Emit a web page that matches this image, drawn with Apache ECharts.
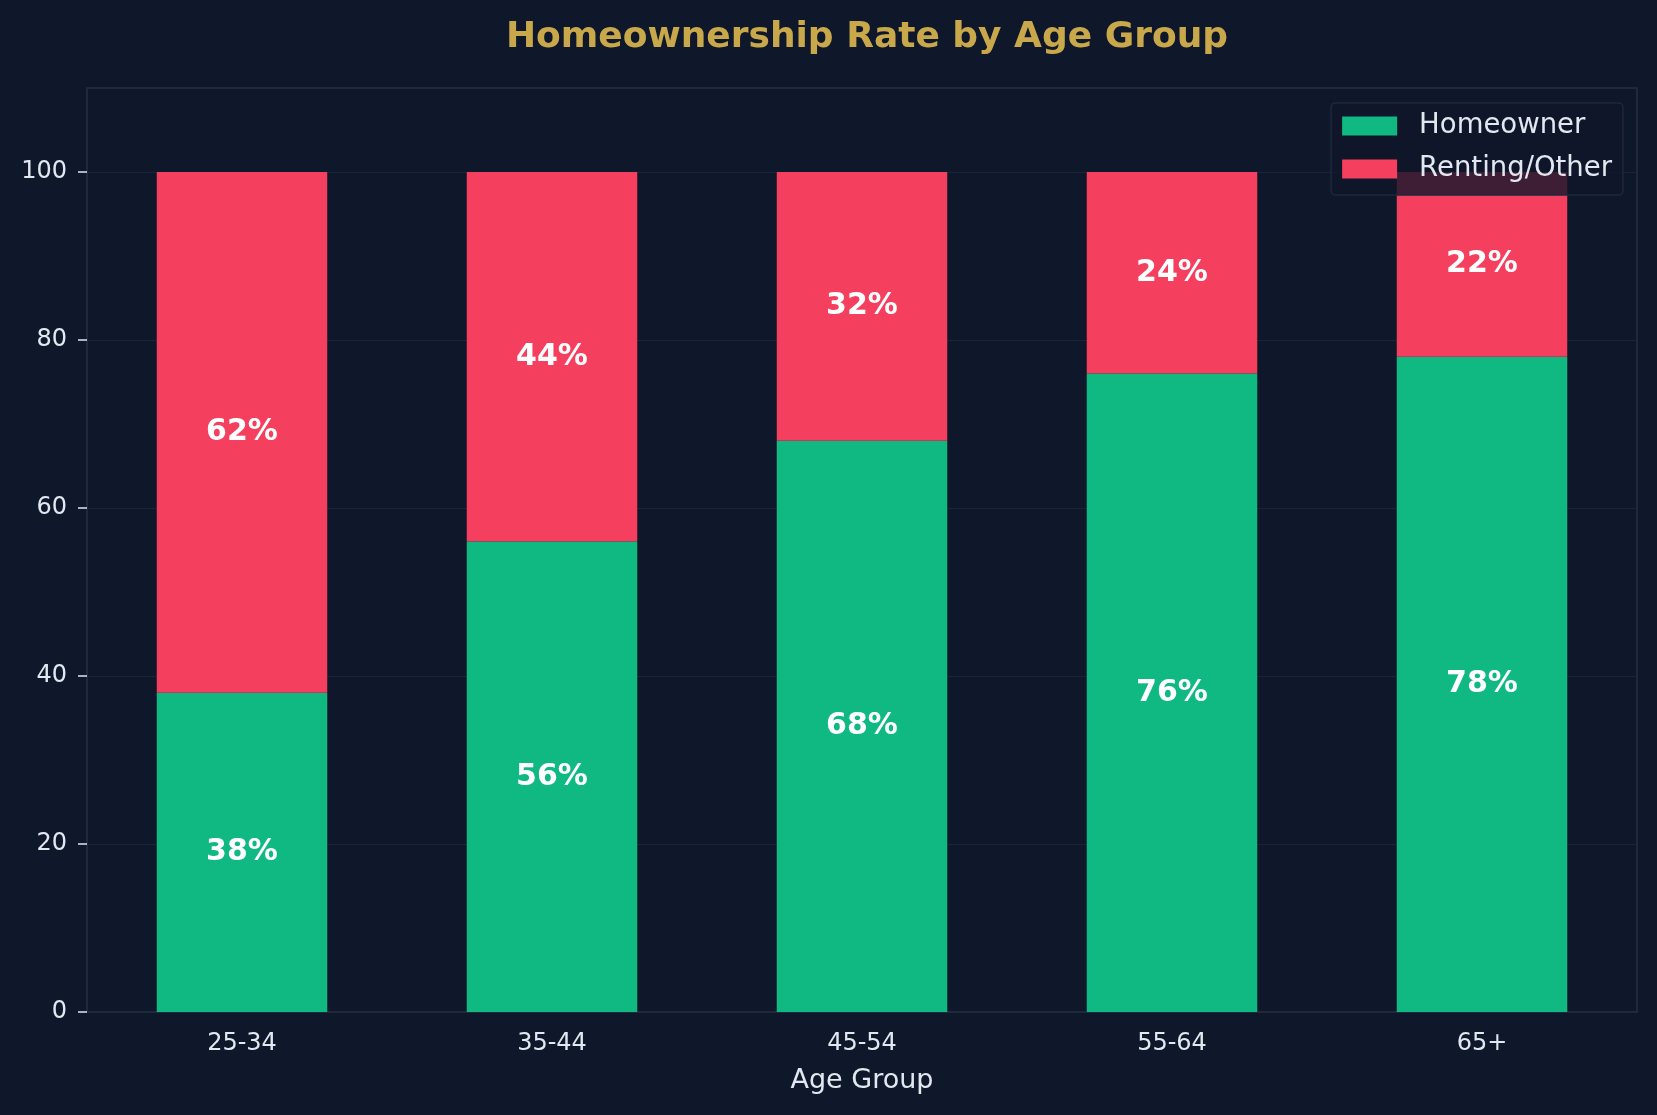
<!DOCTYPE html>
<html>
<head>
<meta charset="utf-8">
<script src="https://cdn.jsdelivr.net/npm/echarts@6/dist/echarts.min.js"></script>
<style>
  html, body { margin: 0; padding: 0; background: #0f172a; }
  #chart { width: 1657px; height: 1115px; }
</style>
</head>
<body>
<div id="chart"></div>
<script>
var ageGroups = ['25-34', '35-44', '45-54', '55-64', '65+'];
var homeowner = [38, 56, 68, 76, 78];
var renting = [62, 44, 32, 24, 22];
var yTicks = [0, 20, 40, 60, 80, 100];

var font = 'DejaVu Sans';
var myChart = echarts.init(document.getElementById('chart'));

var option = {
    backgroundColor: '#0f172a',
    title: {
        text: 'Homeownership Rate by Age Group',
        left: 862,
        textAlign: 'center',
        top: 15,
        textStyle: {
            color: '#c9a84c',
            fontSize: 36,
            fontWeight: 'bold',
            fontFamily: font
        }
    },
    legend: {
        orient: 'vertical',
        right: 34,
        top: 103,
        icon: 'rect',
        itemWidth: 55,
        itemHeight: 19,
        itemGap: 13,
        padding: [8, 11, 11, 11],
        backgroundColor: 'rgba(15,23,42,0.8)',
        borderColor: '#1e293b',
        borderWidth: 1.5,
        borderRadius: 4,
        textStyle: {
            color: '#e2e8f0',
            fontSize: 27.5,
            fontFamily: font,
            lineHeight: 30,
            padding: [0, 0, 0, 17]
        },
        data: ['Homeowner', 'Renting/Other']
    },
    grid: {
        left: 87,
        right: 20,
        top: 88,
        bottom: 103,
        show: true,
        borderColor: '#1e293b',
        borderWidth: 2,
        backgroundColor: 'transparent'
    },
    xAxis: {
        type: 'category',
        data: ageGroups,
        boundaryGap: true,
        name: 'Age Group',
        nameLocation: 'middle',
        nameGap: 55,
        nameTextStyle: { color: '#e2e8f0', fontSize: 27, fontFamily: font },
        axisLine: { lineStyle: { color: '#1e293b', width: 2 } },
        axisTick: { alignWithLabel: true, length: 9, lineStyle: { color: '#e2e8f0', width: 1.5 } },
        axisLabel: { color: '#e2e8f0', fontSize: 24, fontFamily: font, margin: 20 },
        splitLine: { show: false }
    },
    yAxis: {
        type: 'value',
        min: 0,
        max: 110,
        interval: 20,
        axisLine: { show: true, lineStyle: { color: '#1e293b', width: 2 } },
        axisTick: { show: true, length: 9, customValues: yTicks, lineStyle: { color: '#e2e8f0', width: 1.5 } },
        axisLabel: { color: '#e2e8f0', fontSize: 24, fontFamily: font, margin: 20, customValues: yTicks },
        splitLine: { lineStyle: { color: '#1a2437', width: 1.2 } }
    },
    series: [
        {
            name: 'Homeowner',
            type: 'bar',
            stack: 'total',
            barWidth: '55%',
            data: homeowner,
            itemStyle: { color: '#10b981' },
            label: {
                show: true,
                position: 'inside',
                formatter: '{c}%',
                color: '#ffffff',
                fontSize: 30,
                fontWeight: 'bold',
                fontFamily: font
            }
        },
        {
            name: 'Renting/Other',
            type: 'bar',
            stack: 'total',
            barWidth: '55%',
            data: renting,
            itemStyle: { color: '#f43f5e' },
            label: {
                show: true,
                position: 'inside',
                formatter: '{c}%',
                color: '#ffffff',
                fontSize: 30,
                fontWeight: 'bold',
                fontFamily: font
            }
        }
    ]
};
myChart.setOption(option);
</script>
</body>
</html>
